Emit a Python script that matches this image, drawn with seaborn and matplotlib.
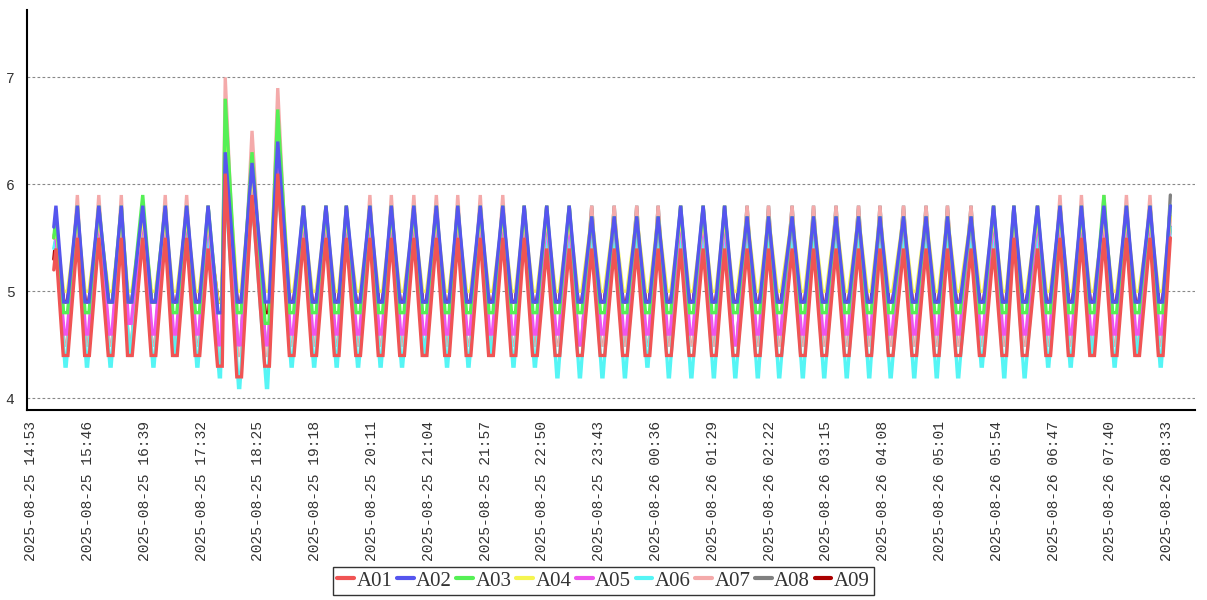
import numpy as np
import pandas as pd
import matplotlib
matplotlib.use('Agg')
import matplotlib.pyplot as plt
import seaborn as sns
from matplotlib.lines import Line2D

# 基本样式
sns.set_style('white')
plt.rcParams['font.family'] = ['Liberation Serif', 'DejaVu Serif']

SERIES = ['A01', 'A02', 'A03', 'A04', 'A05', 'A06', 'A07', 'A08', 'A09']
COLORS = ['#f05454', '#5555ee', '#55f055', '#f5f550', '#ee55ee',
          '#55f5f5', '#f4aaaa', '#808080', '#aa0000']

BASE_TIME = '2025-08-25 14:53'
TICK_STEP_MIN = 53
N_TICKS = 21

# 时间（距 14:53 的分钟数）
START_MIN = 21
PEAK_MIN = [23, 43, 63, 84, 104, 125, 145, 165, 181, 206,
            230, 254, 275, 294, 316, 336, 357, 378, 398, 419,
            440, 460, 481, 502, 523, 544, 565, 585, 606, 627,
            647, 668, 688, 710, 730, 751, 772, 792, 814, 835,
            855, 877, 898, 917, 939, 960, 980, 1001, 1022, 1044, 1063]
TROUGH_MIN = [32, 52, 74, 92, 114, 134, 155, 176, 194, 220,
              243, 264, 285, 305, 326, 346, 367, 388, 408, 429,
              450, 470, 491, 512, 533, 554, 575, 595, 616, 637,
              657, 678, 698, 720, 740, 761, 782, 802, 824, 845,
              865, 887, 908, 927, 949, 970, 990, 1011, 1032, 1054]
# 各通道谷底平台的半宽（分钟）
TROUGH_HALF = [2.2, 1.8, 1.8, 1.8, 1.2, 0.6, 1.5, 1.5, 1.5]

START_VALUES = [5.2, 5.6, 5.5, 5.5, 5.5, 5.4, 5.5, 5.5, 5.3]

A01_PEAKS = [5.4, 5.5, 5.5, 5.5, 5.5, 5.5, 5.5, 5.4, 6.1, 5.9,
             6.1, 5.5, 5.5, 5.5, 5.5, 5.5, 5.5, 5.5, 5.5, 5.5,
             5.5, 5.5, 5.4, 5.4, 5.4, 5.4, 5.4, 5.4, 5.4, 5.4,
             5.4, 5.4, 5.4, 5.4, 5.4, 5.4, 5.4, 5.4, 5.4, 5.4,
             5.4, 5.4, 5.4, 5.5, 5.4, 5.5, 5.5, 5.5, 5.5, 5.5, 5.5]
A01_TROUGHS = [4.4, 4.4, 4.4, 4.4, 4.4, 4.4, 4.4, 4.3, 4.2, 4.3,
               4.4, 4.4, 4.4, 4.4, 4.4, 4.4, 4.4, 4.4, 4.4, 4.4,
               4.4, 4.4, 4.4, 4.4, 4.4, 4.4, 4.4, 4.4, 4.4, 4.4,
               4.4, 4.4, 4.4, 4.4, 4.4, 4.4, 4.4, 4.4, 4.4, 4.4,
               4.4, 4.4, 4.4, 4.4, 4.4, 4.4, 4.4, 4.4, 4.4, 4.4]

A02_PEAKS = [5.8, 5.8, 5.8, 5.8, 5.8, 5.8, 5.8, 5.8, 6.3, 6.2,
             6.4, 5.8, 5.8, 5.8, 5.8, 5.8, 5.8, 5.8, 5.8, 5.8,
             5.8, 5.8, 5.8, 5.8, 5.7, 5.7, 5.7, 5.7, 5.8, 5.8,
             5.8, 5.7, 5.7, 5.7, 5.7, 5.7, 5.7, 5.7, 5.7, 5.7,
             5.7, 5.7, 5.8, 5.8, 5.8, 5.8, 5.8, 5.8, 5.8, 5.8, 5.8]
A02_TROUGHS = [4.9, 4.9, 4.9, 4.9, 4.9, 4.9, 4.9, 4.8, 4.9, 4.9,
               4.9, 4.9, 4.9, 4.9, 4.9, 4.9, 4.9, 4.9, 4.9, 4.9,
               4.9, 4.9, 4.9, 4.9, 4.9, 4.9, 4.9, 4.9, 4.9, 4.9,
               4.9, 4.9, 4.9, 4.9, 4.9, 4.9, 4.9, 4.9, 4.9, 4.9,
               4.9, 4.9, 4.9, 4.9, 4.9, 4.9, 4.9, 4.9, 4.9, 4.9]

A03_PEAKS = [5.7, 5.8, 5.8, 5.8, 5.9, 5.8, 5.8, 5.8, 6.8, 6.3,
             6.7, 5.8, 5.8, 5.8, 5.8, 5.8, 5.8, 5.8, 5.8, 5.8,
             5.8, 5.8, 5.8, 5.8, 5.7, 5.7, 5.7, 5.7, 5.8, 5.8,
             5.8, 5.7, 5.7, 5.7, 5.7, 5.7, 5.7, 5.7, 5.7, 5.7,
             5.7, 5.7, 5.8, 5.8, 5.8, 5.8, 5.8, 5.9, 5.8, 5.8, 5.8]
A03_TROUGHS = [4.8, 4.8, 4.9, 4.9, 4.9, 4.8, 4.8, 4.8, 4.8, 4.7,
               4.8, 4.8, 4.8, 4.8, 4.8, 4.8, 4.8, 4.8, 4.8, 4.8,
               4.8, 4.8, 4.8, 4.8, 4.8, 4.8, 4.8, 4.8, 4.8, 4.8,
               4.8, 4.8, 4.8, 4.8, 4.8, 4.8, 4.8, 4.8, 4.8, 4.8,
               4.8, 4.8, 4.8, 4.8, 4.8, 4.8, 4.8, 4.8, 4.8, 4.8]

A04_PEAKS = [5.6, 5.7, 5.7, 5.7, 5.7, 5.7, 5.7, 5.7, 6.5, 6.1,
             6.5, 5.7, 5.7, 5.7, 5.7, 5.7, 5.7, 5.7, 5.7, 5.7,
             5.7, 5.7, 5.7, 5.7, 5.7, 5.7, 5.7, 5.7, 5.7, 5.7,
             5.7, 5.7, 5.7, 5.7, 5.7, 5.7, 5.7, 5.7, 5.7, 5.7,
             5.7, 5.7, 5.7, 5.7, 5.7, 5.7, 5.7, 5.7, 5.7, 5.7, 5.7]
A04_TROUGHS = [5.0, 5.0, 5.0, 5.0, 5.0, 5.0, 5.0, 4.9, 5.0, 5.0,
               5.0, 5.0, 5.0, 5.0, 5.0, 5.0, 5.0, 5.0, 5.0, 5.0,
               5.0, 5.0, 5.0, 5.0, 5.0, 5.0, 5.0, 5.0, 5.0, 5.0,
               5.0, 5.0, 5.0, 5.0, 5.0, 5.0, 5.0, 5.0, 5.0, 5.0,
               5.0, 5.0, 5.0, 5.0, 5.0, 5.0, 5.0, 5.0, 5.0, 5.0]

A05_PEAKS = [5.5, 5.7, 5.7, 5.7, 5.7, 5.7, 5.7, 5.7, 6.2, 6.0,
             6.2, 5.7, 5.7, 5.7, 5.7, 5.7, 5.7, 5.7, 5.7, 5.7,
             5.7, 5.7, 5.7, 5.7, 5.7, 5.7, 5.7, 5.7, 5.7, 5.7,
             5.7, 5.7, 5.7, 5.7, 5.7, 5.7, 5.7, 5.7, 5.7, 5.7,
             5.7, 5.7, 5.7, 5.7, 5.7, 5.7, 5.7, 5.7, 5.7, 5.7, 5.7]
A05_TROUGHS = [4.6, 4.6, 4.6, 4.7, 4.6, 4.6, 4.6, 4.5, 4.5, 4.5,
               4.6, 4.6, 4.6, 4.6, 4.6, 4.6, 4.6, 4.6, 4.6, 4.6,
               4.6, 4.6, 4.6, 4.5, 4.6, 4.6, 4.6, 4.6, 4.6, 4.6,
               4.5, 4.6, 4.6, 4.6, 4.6, 4.6, 4.6, 4.6, 4.6, 4.6,
               4.6, 4.6, 4.6, 4.6, 4.6, 4.6, 4.6, 4.6, 4.6, 4.6]

A06_PEAKS = [5.5, 5.6, 5.6, 5.6, 5.6, 5.6, 5.6, 5.6, 6.0, 5.9,
             6.1, 5.6, 5.6, 5.6, 5.6, 5.6, 5.6, 5.6, 5.6, 5.6,
             5.6, 5.6, 5.6, 5.6, 5.6, 5.6, 5.6, 5.6, 5.6, 5.6,
             5.6, 5.6, 5.6, 5.6, 5.6, 5.6, 5.6, 5.6, 5.6, 5.6,
             5.6, 5.6, 5.6, 5.6, 5.6, 5.6, 5.6, 5.6, 5.6, 5.6, 5.6]
A06_TROUGHS = [4.3, 4.3, 4.3, 4.4, 4.3, 4.4, 4.3, 4.2, 4.1, 4.1,
               4.3, 4.3, 4.3, 4.3, 4.3, 4.3, 4.4, 4.3, 4.3, 4.4,
               4.3, 4.3, 4.2, 4.2, 4.2, 4.2, 4.3, 4.2, 4.2, 4.2,
               4.2, 4.2, 4.2, 4.2, 4.2, 4.2, 4.2, 4.2, 4.2, 4.2,
               4.2, 4.3, 4.2, 4.2, 4.3, 4.3, 4.4, 4.3, 4.4, 4.3]

A07_PEAKS = [5.6, 5.9, 5.9, 5.9, 5.8, 5.9, 5.9, 5.8, 7.0, 6.5,
             6.9, 5.8, 5.8, 5.8, 5.9, 5.9, 5.9, 5.9, 5.9, 5.9,
             5.9, 5.8, 5.8, 5.8, 5.8, 5.8, 5.8, 5.8, 5.8, 5.8,
             5.8, 5.8, 5.8, 5.8, 5.8, 5.8, 5.8, 5.8, 5.8, 5.8,
             5.8, 5.8, 5.8, 5.8, 5.8, 5.9, 5.9, 5.9, 5.9, 5.9, 5.8]
A07_TROUGHS = [4.5, 4.5, 4.5, 4.5, 4.5, 4.5, 4.5, 4.4, 4.4, 4.4,
               4.5, 4.5, 4.5, 4.5, 4.5, 4.5, 4.5, 4.5, 4.5, 4.5,
               4.5, 4.5, 4.5, 4.5, 4.5, 4.5, 4.5, 4.5, 4.5, 4.5,
               4.5, 4.5, 4.5, 4.5, 4.5, 4.5, 4.5, 4.5, 4.5, 4.5,
               4.5, 4.5, 4.5, 4.5, 4.5, 4.5, 4.5, 4.5, 4.5, 4.5]

A08_PEAKS = [5.6, 5.8, 5.8, 5.8, 5.8, 5.8, 5.8, 5.8, 6.6, 6.3,
             6.6, 5.8, 5.8, 5.8, 5.8, 5.8, 5.8, 5.8, 5.8, 5.8,
             5.8, 5.8, 5.8, 5.8, 5.8, 5.8, 5.8, 5.8, 5.8, 5.8,
             5.8, 5.8, 5.8, 5.8, 5.8, 5.8, 5.8, 5.8, 5.8, 5.8,
             5.8, 5.8, 5.8, 5.8, 5.8, 5.8, 5.8, 5.8, 5.8, 5.8, 5.9]
A08_TROUGHS = [4.5, 4.5, 4.5, 4.5, 4.5, 4.5, 4.5, 4.5, 4.5, 4.5,
               4.5, 4.5, 4.5, 4.5, 4.5, 4.5, 4.5, 4.5, 4.5, 4.5,
               4.5, 4.5, 4.5, 4.5, 4.5, 4.5, 4.5, 4.5, 4.5, 4.5,
               4.5, 4.5, 4.5, 4.5, 4.5, 4.5, 4.5, 4.5, 4.5, 4.5,
               4.5, 4.5, 4.5, 4.5, 4.5, 4.5, 4.5, 4.5, 4.5, 4.5]

A09_PEAKS = [5.5, 5.6, 5.6, 5.6, 5.6, 5.6, 5.6, 5.6, 5.9, 5.8,
             6.0, 5.6, 5.6, 5.6, 5.6, 5.6, 5.6, 5.6, 5.6, 5.6,
             5.6, 5.6, 5.6, 5.6, 5.6, 5.6, 5.6, 5.6, 5.6, 5.6,
             5.6, 5.6, 5.6, 5.6, 5.6, 5.6, 5.6, 5.6, 5.6, 5.6,
             5.6, 5.6, 5.6, 5.6, 5.6, 5.6, 5.6, 5.6, 5.6, 5.6, 5.6]
A09_TROUGHS = [4.9, 4.9, 4.9, 4.9, 4.9, 4.9, 4.9, 4.9, 4.9, 4.8,
               4.9, 4.9, 4.9, 4.9, 4.9, 4.9, 4.9, 4.9, 4.9, 4.9,
               4.9, 4.9, 4.9, 4.9, 4.9, 4.9, 4.9, 4.9, 4.9, 4.9,
               4.9, 4.9, 4.9, 4.9, 4.9, 4.9, 4.9, 4.9, 4.9, 4.9,
               4.9, 4.9, 4.9, 4.9, 4.9, 4.9, 4.9, 4.9, 4.9, 4.9]

PEAKS = [A01_PEAKS, A02_PEAKS, A03_PEAKS, A04_PEAKS, A05_PEAKS,
         A06_PEAKS, A07_PEAKS, A08_PEAKS, A09_PEAKS]
TROUGHS = [A01_TROUGHS, A02_TROUGHS, A03_TROUGHS, A04_TROUGHS, A05_TROUGHS,
           A06_TROUGHS, A07_TROUGHS, A08_TROUGHS, A09_TROUGHS]


def build_long_table():
    """把每个通道的峰值/谷值点整理成长表"""
    rows = []
    for name, start, peaks, troughs, half in zip(SERIES, START_VALUES, PEAKS,
                                                 TROUGHS, TROUGH_HALF):
        rows.append((START_MIN, start, name))
        for k, pk in enumerate(peaks):
            rows.append((PEAK_MIN[k], pk, name))
            if k < len(troughs):
                rows.append((TROUGH_MIN[k] - half, troughs[k], name))
                rows.append((TROUGH_MIN[k] + half, troughs[k], name))
    return pd.DataFrame(rows, columns=['minute', 'value', 'series'])


df = build_long_table()

fig = plt.figure(figsize=(12.07, 6.0), dpi=100)
ax = fig.add_axes([27 / 1207, 1 - 410 / 600, (1195 - 27) / 1207, 400 / 600])

sns.lineplot(data=df, x='minute', y='value', hue='series', hue_order=SERIES,
             palette=COLORS, estimator=None, sort=False, lw=2.4,
             legend=False, ax=ax)

# A01 画在最上层
for i, line in enumerate(ax.lines):
    line.set_zorder(20 - i)
    line.set_solid_joinstyle('miter')

ax.set_xlim(-4, 1086)
ax.set_ylim(3.89, 7.63)

mono = ['Liberation Mono', 'DejaVu Sans Mono']
ax.set_yticks([4, 5, 6, 7])
ax.set_yticklabels(['4', '5', '6', '7'], family=mono)
ax.yaxis.grid(True, linestyle=(0, (2.5, 2)), color='#888888', lw=0.8)
ax.xaxis.grid(False)

base = pd.Timestamp(BASE_TIME)
tick_min = np.arange(N_TICKS) * TICK_STEP_MIN
tick_lbl = [(base + pd.Timedelta(minutes=int(m))).strftime('%Y-%m-%d %H:%M') for m in tick_min]
ax.set_xticks(tick_min)
ax.set_xticklabels(tick_lbl, rotation=90, ha='center', va='top',
                   family=mono, fontsize=10.5, color='#333333')

ax.tick_params(axis='x', length=5, width=1, color='#333333', pad=3, direction='out')
ax.tick_params(axis='y', length=0, pad=9, labelsize=10.5, labelcolor='#333333')
ax.set_xlabel('')
ax.set_ylabel('')

for side in ['top', 'right']:
    ax.spines[side].set_visible(False)
for side in ['left', 'bottom']:
    ax.spines[side].set_color('black')
    ax.spines[side].set_linewidth(1.5)

handles = [Line2D([0], [0], color=c, lw=3) for c in COLORS]
leg = fig.legend(handles, SERIES, loc='center', bbox_to_anchor=(0.5, 0.032),
                 ncol=9, frameon=True, fancybox=False, edgecolor='black',
                 prop={'family': 'Liberation Serif', 'size': 15},
                 handlelength=0.8, handletextpad=0.12, columnspacing=0.22,
                 borderpad=0.2, borderaxespad=0)
leg.get_frame().set_linewidth(1.0)
for t in leg.get_texts():
    t.set_color('#333333')

fig.savefig('out.png', dpi=100)
